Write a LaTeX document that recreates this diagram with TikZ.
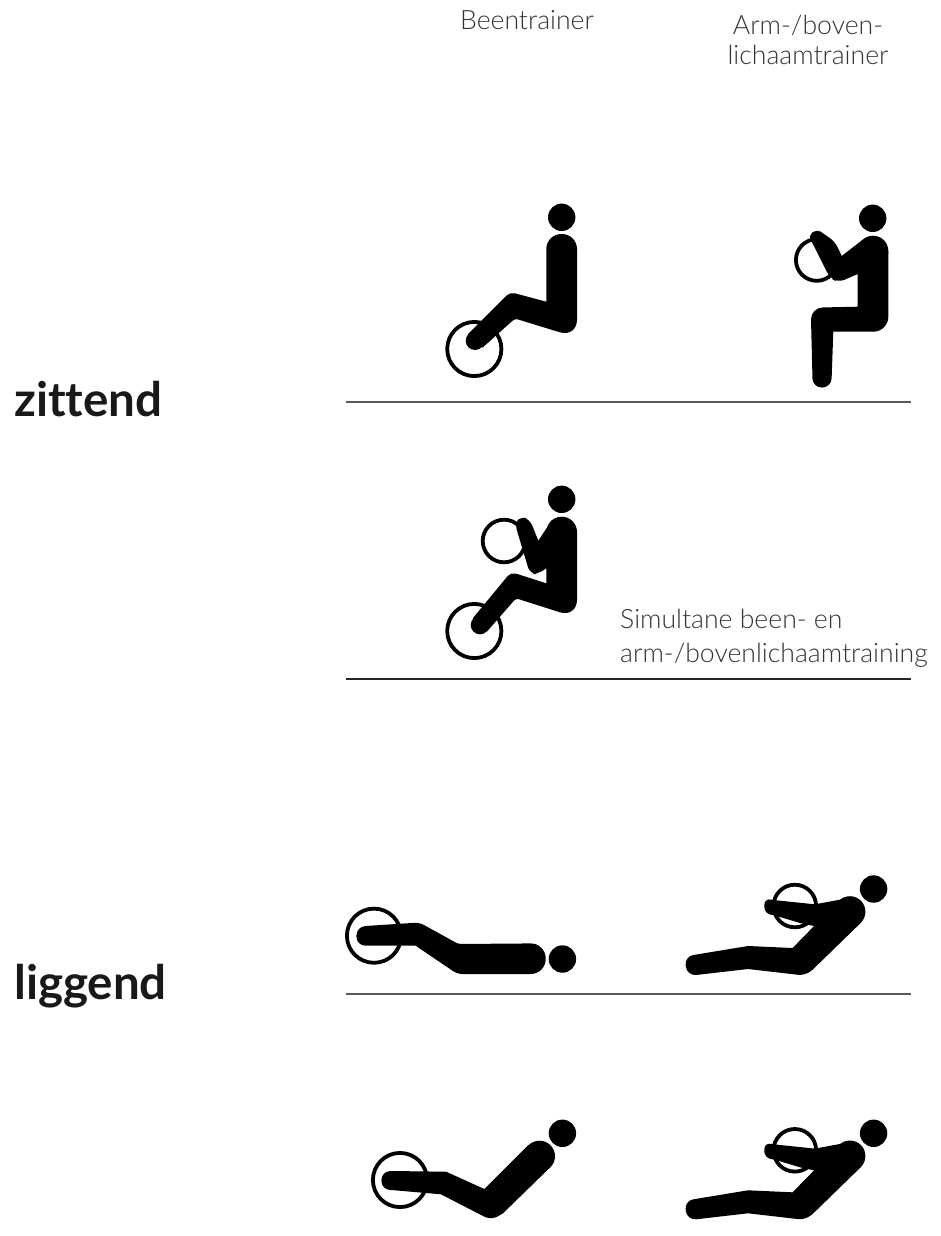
\documentclass[tikz,border=0pt]{standalone}
\usepackage{fontspec}
\setmainfont{Lato}[Ligatures=NoCommon]
\newfontfamily\lightfont{Lato Light}
\usetikzlibrary{positioning}
\tikzset{
  label/.style={font=\lightfont\fontsize{26.6}{31}\selectfont,text=black!80,inner sep=0pt,align=center},
  heading/.style={font=\bfseries\fontsize{47.5}{54}\selectfont,text=black!90,inner sep=0pt,anchor=west},
  floor/.style={draw=black!65,line width=1.4pt},
  head/.style={fill=black,circle,minimum size=27.4pt,inner sep=0pt},
  wheel/.style={draw=black,line width=3.8pt,circle,inner sep=0pt},
  person/.style={fill=black}
}
\begin{document}
\begin{tikzpicture}[x=1pt,y=-1pt]
\useasboundingbox (0,0) rectangle (940,1236);
% column titles
\node[label] (leg) at (527,20.5) {Beentrainer};
\node[label] (arm) at (808,39.5) {Arm-/boven-\\[-1pt]lichaamtrainer};
\node[label,align=left,anchor=north west] (both) at (620,609) {Simultane been- en\\[3pt]arm-/bovenlichaamtraining};
\node[heading] (sit) at (14,399) {zittend};
\node[heading] (lie) at (14,986) {liggend};
% floors
\coordinate (f1a) at (346,402); \coordinate (f1b) at (911,402);
\coordinate (f2a) at (346,679); \coordinate (f2b) at (911,679);
\coordinate (f3a) at (346,994); \coordinate (f3b) at (911,994);
\draw[floor] (f1a) -- (f1b);
\draw[floor,draw=black!85] (f2a) -- (f2b);
\draw[floor] (f3a) -- (f3b);
% sitting, legs
\node[wheel,minimum size=54.2pt] (w1) at (474.3,349) {};
\node[head] (h1) at (561.7,217.3) {};
\fill[person] (475,340.7) circle (9.3pt);
\fill[person] (546.3,301.7) [rounded corners=5pt] -- (510,292) [sharp corners] -- (468,334) -- (482.7,347.5) [rounded corners=3pt] -- (515,318.5) [rounded corners=18pt] -- (577,337.6) [rounded corners=15pt] -- (577,234) -- (546.3,234) [sharp corners] -- cycle;
% sitting, arms
\node[wheel,minimum size=41.6pt] (w2) at (816.7,260) {};
\node[head] (h2) at (872.7,218.3) {};
\fill[person] (873,251) circle (15.3pt);
\fill[person] (811.7,241.7) [rounded corners=7pt] -- (830,278) -- (838.3,282.5) [sharp corners] -- (857.7,274) -- (857.7,306.7) [rounded corners=12pt] -- (810.7,307.7) [rounded corners=9pt] -- (812.7,387.5) -- (831.3,387.5) [sharp corners] -- (833.3,331.7) [rounded corners=15pt] -- (888.3,331.7) [sharp corners] -- (888.3,251) -- (863,239.5) -- (841.7,256) [rounded corners=6pt] -- (835,241.7) -- (824,234) [rounded corners=5pt] -- (816.7,229) -- (808,236) [sharp corners] -- cycle;
% sitting, both
\node[wheel,minimum size=54.2pt] (w3) at (474.3,631) {};
\node[wheel,minimum size=42.6pt] (w4) at (504,541) {};
\node[head] (h3) at (561.7,499.3) {};
\fill[person] (480,625) circle (9.3pt);
\fill[person] (561.7,532) circle (15.3pt);
\fill[person] (546.3,568.3) -- (546.3,583.3) [rounded corners=5pt] -- (511,572) [sharp corners] -- (473,618) -- (487,631.5) [rounded corners=3pt] -- (516,598.3) [rounded corners=18pt] -- (577,617.7) [sharp corners] -- (577,532) -- (552,520) -- (538.3,540.7) [rounded corners=6pt] -- (530,520) -- (521,516) -- (515,524) [rounded corners=7pt] -- (530,574) -- (538,574) [sharp corners] -- cycle;
% lying, legs
\begin{scope}[xshift=-0.6pt]
\node[wheel,minimum size=54.2pt] (w5) at (374.6,935.7) {};
\node[head] (h5) at (563,959) {};
\fill[person] (366,926) [rounded corners=5pt] -- (420,922.5) [rounded corners=2pt] -- (459,944) [rounded corners=15pt] -- (546.3,943.3) -- (546.3,974) [rounded corners=5pt] -- (458,974) [sharp corners] -- (416.2,945.7) [rounded corners=9pt] -- (357,945.7) -- (357,926.5) [sharp corners] -- cycle;
\end{scope}
% lying, arms (twice)
\foreach \yoff/\wname/\hname in {0/w6/h6,-244.3/w7/h7}{
  \begin{scope}[xshift=-1.7pt,yshift=\yoff pt]
  \node[wheel,minimum size=42.6pt] (\wname) at (796.5,906) {};
  \node[head] (\hname) at (875.3,889) {};
  \fill[person] (851.6,911.7) circle (15.5pt);
  \fill[person] (775,900) -- (816.6,904.3) -- (843.7,899.3) -- (851.6,911.7) -- (862.3,923) -- (814,970) [rounded corners=6pt] -- (806,975.5) [sharp corners] -- (749.7,969) [rounded corners=9pt] -- (689,976) -- (686,956.5) [sharp corners] -- (749.7,946) -- (794.3,948) -- (815.8,926) -- (802.8,923.3) -- (775,915) [rounded corners=7pt] -- (766,914) -- (766,898) [sharp corners] -- cycle;
  \end{scope}
}
% lying, legs raised
\begin{scope}[xshift=-0.6pt]
\node[wheel,minimum size=54.2pt] (w8) at (400.6,1180) {};
\node[head] (h8) at (563,1133.3) {};
\fill[person] (540.1,1156.2) circle (15.5pt);
\fill[person] (392,1171) -- (446.7,1171.7) -- (485,1189) -- (529,1145) -- (540.1,1156.2) -- (550.6,1167.5) -- (503.6,1213.3) [rounded corners=6pt] -- (493,1219.5) [sharp corners] -- (485,1216.7) -- (441.5,1194.3) -- (392,1190) [rounded corners=9pt] -- (382,1190) -- (382,1171) [sharp corners] -- cycle;
\end{scope}
\end{tikzpicture}
\end{document}
